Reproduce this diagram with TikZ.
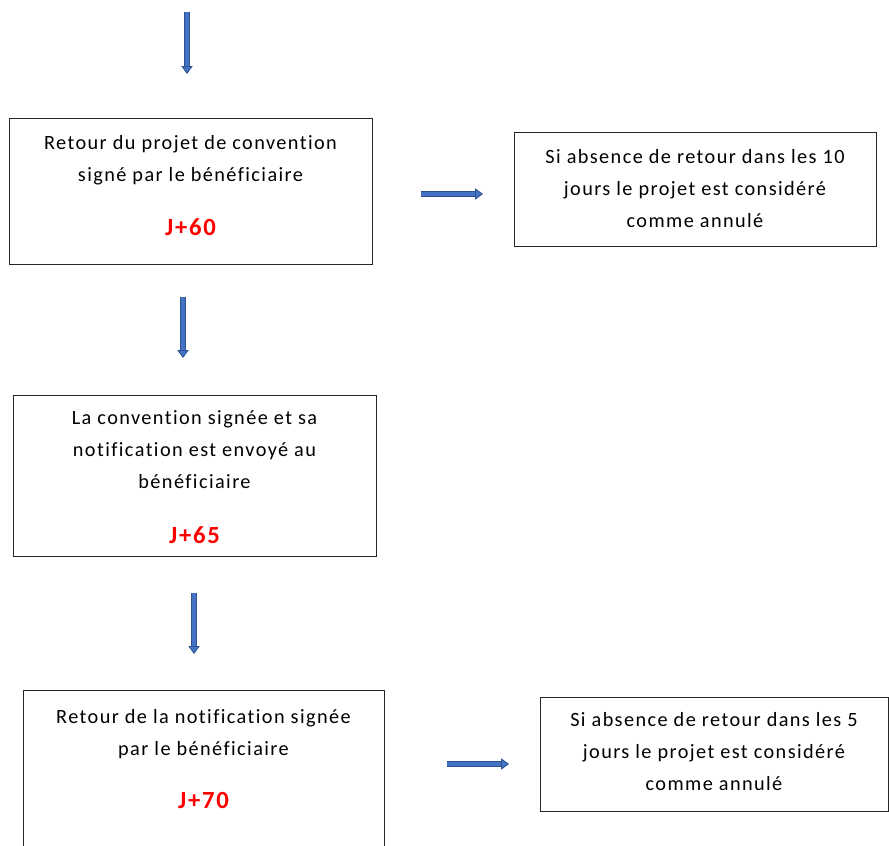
\documentclass[tikz,border=0pt]{standalone}
\usepackage{fontspec}
\setmainfont{Carlito}[Ligatures=NoCommon, LetterSpace=7]
\usetikzlibrary{arrows.meta, positioning}
\definecolor{ArrowBlue}{RGB}{68,114,196}
\definecolor{ArrowDark}{RGB}{47,82,143}
\definecolor{DayRed}{RGB}{255,0,0}
\begin{document}
\begin{tikzpicture}[x=0.75pt, y=-0.75pt,
    stepbox/.style={rectangle, draw=black!85, line width=0.75pt,
                    anchor=north west, inner sep=0pt},
    txt/.style={font=\fontsize{15.2}{24}\selectfont, align=center,
                anchor=north, inner sep=0pt},
    jday/.style={font=\fontsize{18.5}{22}\selectfont\bfseries, text=DayRed,
                 anchor=base, inner sep=0pt},
    flow/.style={draw=ArrowBlue, line width=3.4pt,
                 -{Triangle[length=6pt, width=8.5pt, fill=ArrowBlue,
                            color=ArrowDark, line width=0.6pt]},
                 preaction={draw=ArrowDark, line width=4.6pt, -, shorten >=5.5pt}}
  ]
  \useasboundingbox (0,0) rectangle (889,846);
  \clip (0,0) rectangle (889,846);

  % incoming arrow
  \coordinate (in0) at (187,12);
  \coordinate (in1) at (187,74);
  \draw[flow] (in0) -- (in1);

  % Step 1 : retour du projet
  \node[stepbox, minimum width=272.25pt, minimum height=109.5pt] (retour) at (9,118) {};
  \node[txt] (retourtxt) at (190.5,135)
        {Retour du projet de convention\\signé par le bénéficiaire};
  \node[jday] (j60) at (190.5,235) {J+60};

  \coordinate (r0) at (421,194);
  \coordinate (r1) at (483,194);
  \draw[flow] (r0) -- (r1);

  \node[stepbox, minimum width=271.5pt, minimum height=85.5pt] (annul10) at (514,132) {};
  \node[txt] (annul10txt) at (695,149)
        {Si absence de retour dans les 10\\jours le projet est considéré\\comme annulé};

  \coordinate (d0) at (183,297);
  \coordinate (d1) at (183,358);
  \draw[flow] (d0) -- (d1);

  % Step 2 : envoi de la convention
  \node[stepbox, minimum width=272.25pt, minimum height=120.75pt] (envoi) at (13,395) {};
  \node[txt] (envoitxt) at (194.5,410)
        {La convention signée et sa\\notification est envoyé au\\bénéficiaire};
  \node[jday] (j65) at (194.5,543) {J+65};

  \coordinate (e0) at (194,593);
  \coordinate (e1) at (194,654);
  \draw[flow] (e0) -- (e1);

  % Step 3 : retour de la notification
  \node[stepbox, minimum width=270.75pt, minimum height=127.5pt] (notif) at (23,690) {};
  \node[txt] (notiftxt) at (203.5,709)
        {Retour de la notification signée\\par le bénéficiaire};
  \node[jday] (j70) at (203.5,808) {J+70};

  \coordinate (n0) at (447,764);
  \coordinate (n1) at (509,764);
  \draw[flow] (n0) -- (n1);

  \node[stepbox, minimum width=261pt, minimum height=85.5pt] (annul5) at (540,697) {};
  \node[txt] (annul5txt) at (714,712)
        {Si absence de retour dans les 5\\jours le projet est considéré\\comme annulé};
\end{tikzpicture}
\end{document}
